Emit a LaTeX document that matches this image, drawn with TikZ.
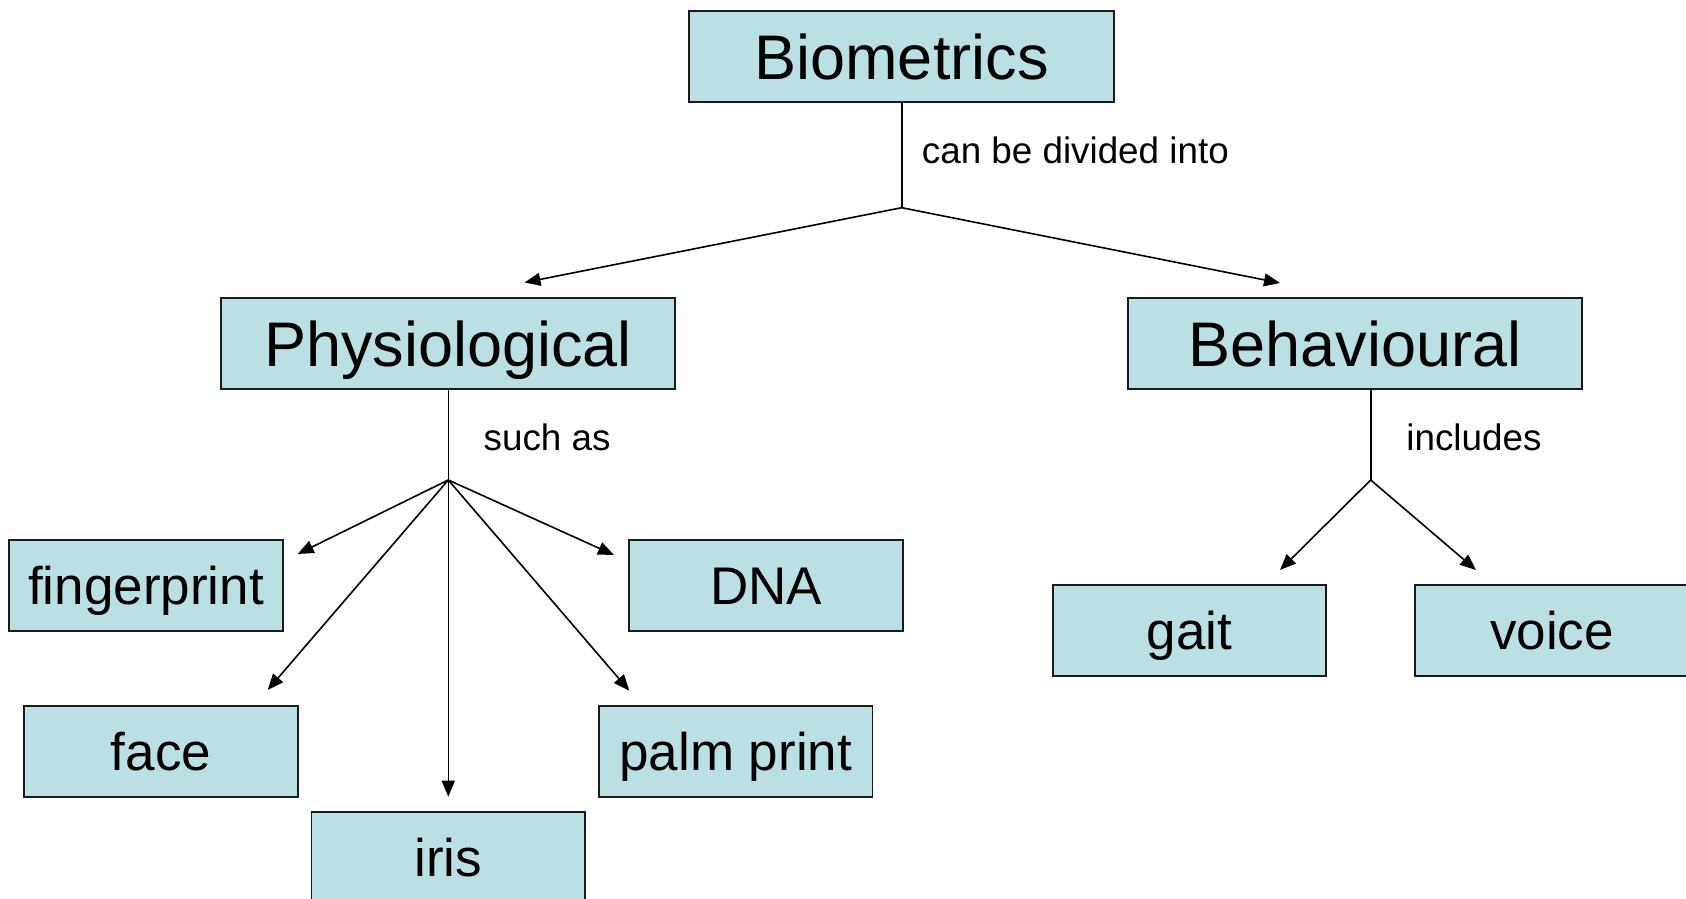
\documentclass[tikz,border=0pt]{standalone}
\usepackage{fontspec}
\setmainfont{Liberation Sans}
\usetikzlibrary{arrows.meta}
\definecolor{boxfill}{HTML}{BBE0E3}
\definecolor{boxline}{HTML}{1A1A1A}
\begin{document}
\begin{tikzpicture}[x=0.5pt,y=-0.5pt,
  box/.style={draw=boxline,line width=0.9pt,fill=boxfill,inner sep=0pt,
    text depth=0pt,minimum height=45.5pt},
  bigbox/.style={box,text height=22.6pt,font=\fontsize{31.5}{36}\selectfont},
  leafbox/.style={box,text height=19pt,font=\fontsize{26.5}{30}\selectfont,minimum width=136.7pt},
  lbl/.style={anchor=base west,inner sep=0pt,font=\fontsize{18.4}{22}\selectfont},
  conn/.style={line width=0.8pt},
  arr/.style={conn,-{Triangle[length=8pt,width=6.5pt]}}]
\useasboundingbox (0,0) rectangle (1686,899);
\clip (0,0) rectangle (1686,899);
% boxes
\node[bigbox,minimum width=212.5pt] (bio) at (901.5,56.5) {Biometrics};
\node[bigbox,minimum width=227pt] (phys) at (448.2,343.4) {Physiological};
\node[bigbox,minimum width=227pt] (behav) at (1355,343.4) {Behavioural};
\node[leafbox] (finger) at (146,585.5) {fingerprint};
\node[leafbox] (dna) at (766,585.5) {DNA};
\node[leafbox] (face) at (161,751.5) {face};
\node[leafbox] (palm) at (735.8,751.5) {palm print};
\node[leafbox] (iris) at (448.2,857.5) {iris};
\node[leafbox] (gait) at (1189.3,630.8) {gait};
\node[leafbox] (voice) at (1552,630.8) {voice};
% junctions and arrow ends
\coordinate (j1) at (901.7,207.7);
\coordinate (j2) at (448.3,480);
\coordinate (j3) at (1370.7,480);
\coordinate (tphys) at (524.5,282.5);
\coordinate (tbehav) at (1280,283);
\coordinate (tfinger) at (297.7,554);
\coordinate (tface) at (267.7,690);
\coordinate (tiris) at (448.3,796.7);
\coordinate (tpalm) at (629.3,690.7);
\coordinate (tdna) at (614,555);
\coordinate (tgait) at (1280,570);
\coordinate (tvoice) at (1476,570);
% connectors
\draw[conn] (bio.south -| j1) -- (j1);
\draw[arr] (j1) -- (tphys);
\draw[arr] (j1) -- (tbehav);
\draw[conn] (phys.south -| j2) -- (j2);
\draw[arr] (j2) -- (tfinger);
\draw[arr] (j2) -- (tface);
\draw[arr] (j2) -- (tiris);
\draw[arr] (j2) -- (tpalm);
\draw[arr] (j2) -- (tdna);
\draw[conn] (behav.south -| j3) -- (j3);
\draw[arr] (j3) -- (tgait);
\draw[arr] (j3) -- (tvoice);
% labels
\node[lbl] (l1) at (921.5,163) {can be divided into};
\node[lbl] (l2) at (483.3,450) {such as};
\node[lbl] (l3) at (1406,450) {includes};
\end{tikzpicture}
\end{document}
